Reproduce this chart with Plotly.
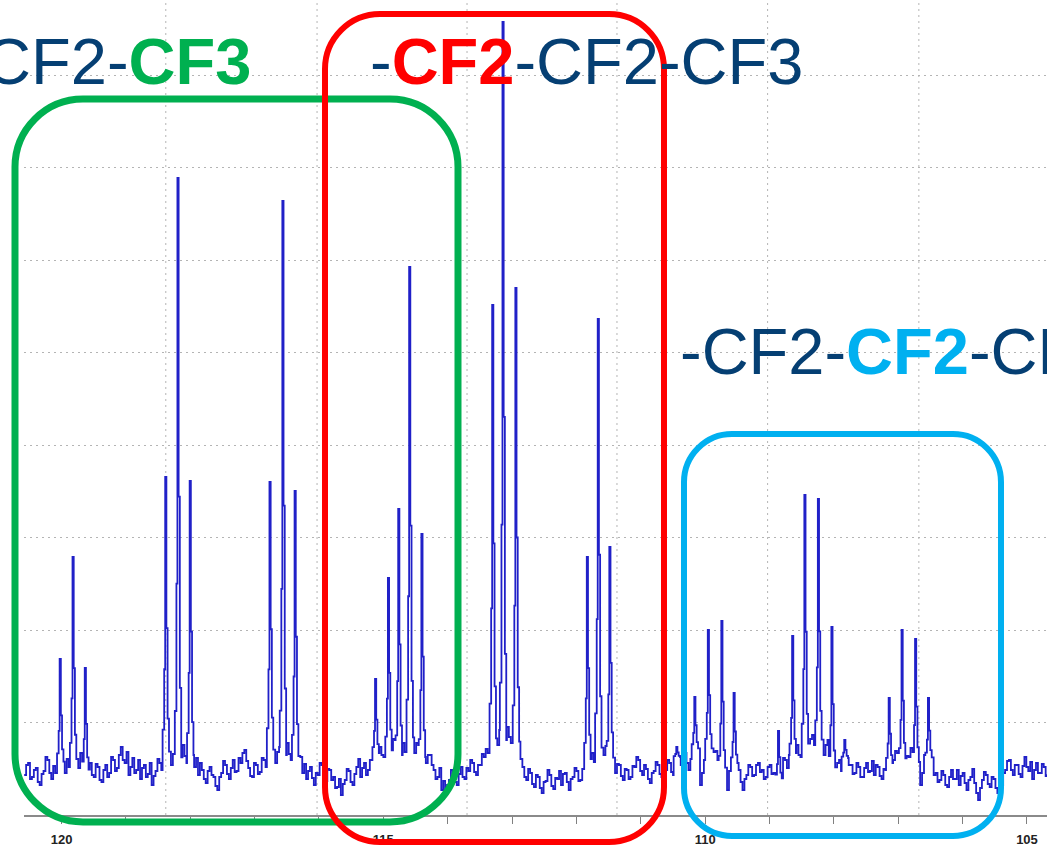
import numpy as np
import plotly.graph_objects as go

# ---------------- data ----------------
# 19F chemical shift axis (ppm, reversed) and intensities (arbitrary units)
baseline_start_ppm = 120.58
baseline_step_ppm = 0.03
baseline_intensity = [
    40, 50, 52, 36, 38, 45, 47, 33, 30, 41, 44, 58, 55, 42, 36, 49, 42, 35, 48, 56,
    50, 42, 56, 48, 44, 55, 58, 46, 47, 62, 60, 50, 43, 54, 52, 40,
    38, 51, 48, 35, 33, 45, 50, 38, 42, 58, 55, 44, 47, 60, 68, 55, 52, 63, 40, 48, 57, 42,
    45, 55, 36, 47, 50, 38, 41, 52, 30, 39, 44, 56, 52, 45,
    55, 64, 62, 53, 50, 61, 66, 57, 58, 68, 70, 59, 52, 63, 60, 51, 48, 57,
    40, 52, 45, 36, 32, 44, 48, 40, 38, 29, 25, 38, 42, 54, 50, 41, 36, 47, 55, 43,
    44, 57, 52, 62, 65, 54, 47, 39, 38, 52, 50, 41, 43, 57, 55, 48,
    58, 66, 64, 55, 52, 63, 68, 59, 60, 70, 72, 61, 55, 66, 62, 53, 50, 58,
    42, 51, 36, 44, 48, 37, 30, 42, 40, 52, 50, 39, 34, 46, 45, 35, 38, 27, 28, 36,
    20, 31, 35, 46, 44, 33, 30, 41, 48, 56, 38, 47, 52, 40, 45, 55,
    55, 66, 62, 54, 68, 60, 58, 71, 70, 62, 64, 76, 75, 66, 60, 70, 72, 63, 66, 77,
    78, 68, 62, 72, 70, 61, 58, 66, 52, 60, 60, 50,
    45, 36, 38, 47, 25, 34, 20, 30, 35, 45, 42, 33, 30, 41, 48, 38, 36, 47, 44, 55,
    52, 43, 40, 50, 50, 61, 58, 66, 62, 71,
    70, 80, 78, 70, 85, 76, 75, 86, 88, 78, 72, 82, 80, 70, 65, 56,
    48, 38, 35, 46, 42, 31, 28, 40, 38, 27, 22, 33, 34, 45, 40, 29, 26, 37, 36, 44,
    30, 41, 42, 33, 25, 36, 38, 47, 44, 34, 35, 46, 50, 58,
    55, 64, 62, 53, 58, 68, 66, 57, 60, 69, 54, 62, 48, 40,
    42, 51, 50, 39, 35, 46, 45, 36, 38, 49, 48, 58, 55, 44, 40, 50, 46, 36, 32, 42,
    44, 53, 50, 41, 38, 47, 45, 55, 52, 43, 40, 50, 58, 47,
    50, 61, 62, 52, 45, 56, 58, 67, 66, 48, 30, 42, 55, 65, 70, 60, 52, 63, 64, 55,
    58, 47, 48, 36, 25, 44, 60, 52, 52, 62, 45, 33, 25, 36, 40, 50,
    48, 39, 40, 50, 52, 43, 45, 36, 38, 48, 50, 41, 42, 33, 30, 40, 48, 57, 55, 47, 60, 68,
    62, 71, 70, 60, 58, 68, 75, 64, 65, 76, 80, 70, 68, 77, 72, 62, 60, 70, 75, 58,
    45, 53, 62, 52, 55, 44, 48, 57, 58, 50,
    50, 41, 42, 52, 48, 38, 38, 47, 52, 43, 44, 54, 40, 50, 48, 39, 36, 46, 45, 54, 52, 60,
    55, 64, 62, 53, 50, 60, 68, 59, 58, 67, 64, 55, 52, 40, 30, 42, 60, 50, 55, 63, 48, 40,
    42, 33, 35, 44, 40, 30, 28, 38, 45, 36, 36, 45, 30, 39, 42, 32, 25, 35, 38, 46,
    32, 22, 15, 27, 35, 43, 40, 31, 28, 38, 36, 27, 22, 32,
    30, 42, 45, 54, 55, 45, 40, 50, 50, 41, 38, 49, 58, 48, 44, 53, 36, 45, 52, 42,
    42, 51, 48, 39, 40, 48,
]

peak_ppm = [
    120.02, 119.82, 119.63, 118.38, 118.19, 118.00, 116.76, 116.56, 116.37,   # CF3
    115.12, 114.92, 114.76, 114.59, 114.40,                                   # CF2 (alpha)
    113.30, 113.14, 112.94, 111.83, 111.66, 111.48,
    110.44, 110.16, 109.95, 109.74, 109.55,                                   # CF2 (middle)
    108.86, 108.64, 108.45, 108.24, 108.03, 107.83,
    107.14, 106.94, 106.73, 106.53,
]
peak_height = [
    156, 258, 147, 338, 637, 334, 333, 614, 324,
    136, 237, 306, 548, 281,
    510, 793, 527, 258, 496, 268,
    68, 118, 185, 194, 122,
    84, 179, 320, 316, 188, 75,
    117, 185, 176, 117,
]

x_tick_major = [120, 115, 110, 105]
x_grid_ppm = [118.38, 116.03, 113.70, 111.37, 109.03, 106.68]

# ---------------- build the spectrum trace ----------------
PX = 1.0 / 64.37  # one screen pixel in ppm (for peak line shape only)
bx = baseline_start_ppm - baseline_step_ppm * np.arange(len(baseline_intensity))
by = np.array(baseline_intensity, float)

keep = np.ones(len(bx), bool)
for p in peak_ppm:
    keep &= np.abs(bx - p) > 3.6 * PX
xs = list(bx[keep])
ys = list(by[keep])

prof_off = [3.2, 1.6, 0.6, -0.6, -1.8, -3.2]
prof_frac = [0.08, 0.30, 1.0, 0.45, 0.12, 0.0]
for p, h in zip(peak_ppm, peak_height):
    base = float(np.interp(p, bx[::-1], by[::-1]))
    for o, f in zip(prof_off, prof_frac):
        xs.append(p + o * PX)
        ys.append(base + f * (h - base))

order = np.argsort(xs)[::-1]
xs = np.array(xs)[order]
ys = np.array(ys)[order]

fig = go.Figure()
fig.add_trace(go.Scatter(
    x=xs, y=ys, mode="lines", line=dict(color="#2020c8", width=1.8, shape="hv"),
    hoverinfo="skip", showlegend=False,
))

# ---------------- layout ----------------
W, H = 1047, 848
L, B, T = 24, 33, 0
plot_w = W - L
plot_h = H - B - T


def px2paper(px, py):
    return (px - L) / plot_w, (H - B - py) / plot_h


GRID_DASH = "2px,4px"
for g in x_grid_ppm:
    fig.add_shape(type="line", xref="x", yref="paper", x0=g, x1=g, y0=0, y1=1,
                  line=dict(color="#b4b4b4", width=1, dash=GRID_DASH), layer="below")


def rounded_box(x0, y0, x1, y1, r):
    k = 0.5523 * r
    pts = [
        ("M", [(x0 + r, y0)]),
        ("L", [(x1 - r, y0)]),
        ("C", [(x1 - r + k, y0), (x1, y0 + r - k), (x1, y0 + r)]),
        ("L", [(x1, y1 - r)]),
        ("C", [(x1, y1 - r + k), (x1 - r + k, y1), (x1 - r, y1)]),
        ("L", [(x0 + r, y1)]),
        ("C", [(x0 + r - k, y1), (x0, y1 - r + k), (x0, y1 - r)]),
        ("L", [(x0, y0 + r)]),
        ("C", [(x0, y0 + r - k), (x0 + r - k, y0), (x0 + r, y0)]),
    ]
    s = ""
    for cmd, ps in pts:
        s += cmd + " ".join("%.5f,%.5f" % px2paper(a, b) for a, b in ps) + " "
    return s + "Z"


boxes = [
    (15, 99, 458, 822, 68, "#00b050", 7),
    (325, 14, 664, 842, 55, "#ff0000", 6),
    (684, 434, 1001, 836, 48, "#00b0f0", 6),
]
for x0, y0, x1, y1, r, c, w in boxes:
    fig.add_shape(type="path", xref="paper", yref="paper", path=rounded_box(x0, y0, x1, y1, r),
                  line=dict(color=c, width=w), layer="above")

NAVY = "#053f73"
FONT = "Liberation Sans, Arial, sans-serif"


def add_label(text, px, py, anchor):
    xp, yp = px2paper(px, py)
    fig.add_annotation(xref="paper", yref="paper", x=xp, y=yp, text=text, showarrow=False,
                       xanchor=anchor, yanchor="middle",
                       font=dict(family=FONT, size=65, color=NAVY))


add_label("-CF2-CF2-<b><span style='color:#00b050'>CF3</span></b>", 253, 61, "right")
add_label("-<b><span style='color:#ff0000'>CF2</span></b>-CF2-CF3", 368, 61, "left")
add_label("-CF2-<b><span style='color:#00b0f0'>CF2</span></b>-CF3", 678, 352, "left")

fig.update_layout(
    width=W, height=H,
    margin=dict(l=L, r=0, t=T, b=B, pad=0),
    paper_bgcolor="white", plot_bgcolor="white",
    xaxis=dict(
        range=[120.583, 104.689], showgrid=False, zeroline=False,
        tickvals=x_tick_major, ticktext=[str(v) for v in x_tick_major],
        ticks="outside", ticklen=7, tickcolor="#808080", tickwidth=1,
        showline=True, linecolor="#8a8a8a", linewidth=2,
        tickfont=dict(family=FONT, size=13, color="#222222", weight="bold"),
        ticklabelstandoff=4,
        minor=dict(dtick=1, tick0=0, ticks="outside", ticklen=7, tickcolor="#808080", showgrid=False),
    ),
    yaxis=dict(
        range=[0, plot_h], showgrid=True, gridcolor="#b4b4b4", griddash=GRID_DASH, gridwidth=1,
        dtick=92.5, tick0=0, showticklabels=False, zeroline=False, showline=False, ticks="",
    ),
)

fig.write_html(
    "out.html",
    config={"displayModeBar": False},
    post_script="document.body.style.margin='0px';document.body.style.overflow='hidden';",
)
